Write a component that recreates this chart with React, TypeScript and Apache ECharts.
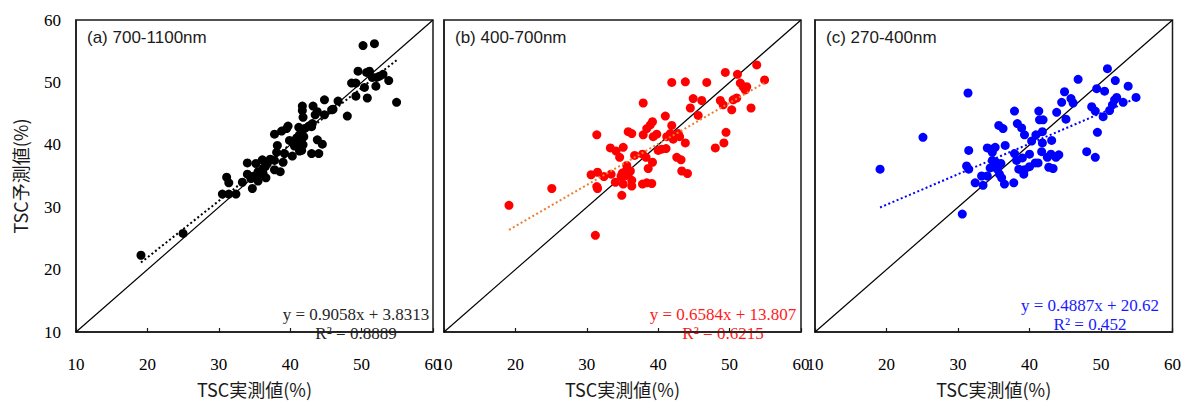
import React, { useEffect, useRef } from "react";
import * as echarts from "echarts";

// Panel (a) 700-1100nm
const aX = [19.1, 25.0, 30.5, 31.4, 32.4, 31.1, 31.4, 33.3, 34.0, 34.0, 34.7, 34.8, 35.2, 35.5, 36.1, 36.2, 36.6, 36.2, 37.8, 37.8, 38.1, 38.2, 38.6, 39.0, 39.2, 37.8, 38.8, 39.5, 39.7, 39.9, 40.3, 40.9, 41.2, 41.3, 41.6, 41.8, 41.3, 41.9, 40.9, 41.7, 41.7, 41.8, 42.6, 43.1, 43.2, 43.5, 43.8, 43.0, 44.0, 43.8, 44.5, 44.8, 44.8, 45.8, 46.0, 46.7, 48.0, 48.6, 49.2, 49.2, 49.5, 50.4, 50.8, 51.1, 51.5, 52.0, 52.5, 53.0, 53.8, 54.9, 52.1, 50.2, 51.8, 34.5, 35.0, 35.8, 36.5, 35.5, 36.8, 37.2, 40.6, 41.6, 42.0, 43.0, 50.7];
const aY = [22.3, 25.8, 32.1, 32.1, 32.1, 34.8, 33.9, 34.0, 37.1, 35.3, 33.0, 34.9, 37.0, 35.7, 37.6, 36.2, 34.7, 35.4, 36.0, 37.5, 38.8, 39.9, 35.7, 37.2, 38.6, 41.7, 42.2, 42.6, 43.0, 40.7, 38.2, 40.0, 42.8, 41.6, 40.8, 40.0, 39.0, 41.3, 41.1, 46.2, 45.5, 44.4, 43.0, 43.4, 46.2, 44.8, 45.3, 38.6, 38.6, 40.8, 40.1, 47.2, 44.8, 45.6, 45.7, 47.0, 44.6, 49.9, 49.9, 47.8, 51.8, 49.2, 47.5, 51.8, 50.8, 49.4, 51.0, 51.3, 50.3, 46.8, 50.8, 55.9, 56.2, 34.6, 35.0, 35.3, 36.5, 34.2, 37.0, 37.7, 39.8, 39.1, 42.6, 42.9, 51.6];

// Panel (b) 400-700nm
const bX = [19.1, 25.1, 31.2, 31.4, 30.6, 31.5, 31.4, 31.5, 32.4, 33.4, 33.3, 34.1, 34.6, 35.1, 34.0, 34.9, 35.1, 34.9, 35.4, 35.6, 36.1, 36.3, 36.3, 36.7, 35.8, 36.3, 37.8, 38.3, 38.6, 39.2, 37.8, 38.4, 39.1, 37.9, 37.9, 38.4, 38.9, 39.2, 39.3, 39.8, 40.0, 40.5, 41.0, 41.1, 41.2, 41.7, 41.9, 41.9, 42.1, 42.6, 43.2, 43.0, 43.8, 43.3, 44.1, 43.8, 44.5, 44.9, 45.6, 46.1, 46.8, 48.0, 48.7, 49.1, 49.2, 49.5, 49.4, 50.3, 50.5, 51.0, 51.1, 51.5, 51.9, 52.2, 52.4, 53.0, 53.8, 54.9, 35.0, 35.3, 35.8, 34.8, 42.8];
const bY = [30.3, 33.0, 25.5, 41.6, 35.2, 35.6, 33.3, 33.0, 34.9, 35.3, 39.5, 39.0, 38.0, 39.6, 34.0, 31.9, 33.7, 35.2, 35.7, 36.7, 35.8, 34.3, 33.4, 38.3, 42.1, 41.8, 38.5, 38.0, 36.2, 37.2, 33.7, 33.9, 33.8, 46.7, 41.6, 42.6, 43.2, 43.7, 41.3, 41.7, 39.1, 39.3, 44.6, 39.4, 41.3, 41.8, 43.1, 50.0, 40.9, 38.0, 37.6, 41.3, 40.3, 35.8, 35.4, 50.1, 45.9, 47.4, 44.7, 47.1, 50.0, 39.5, 47.1, 46.4, 40.3, 42.0, 51.6, 45.6, 47.2, 47.5, 51.3, 49.9, 49.3, 48.8, 49.3, 45.9, 52.8, 50.4, 35.5, 35.0, 35.3, 34.9, 41.8];

// Panel (c) 270-400nm
const cX = [19.1, 25.1, 30.6, 31.4, 31.5, 31.2, 31.5, 32.4, 33.5, 33.3, 34.1, 34.1, 34.6, 35.2, 34.8, 34.8, 35.1, 35.5, 35.8, 36.1, 36.5, 35.7, 36.3, 36.6, 37.9, 37.8, 37.9, 38.2, 38.3, 38.9, 39.3, 39.0, 39.2, 38.5, 40.0, 40.3, 40.9, 41.3, 41.4, 41.9, 41.8, 41.8, 40.8, 41.2, 40.0, 39.3, 41.7, 43.0, 43.1, 42.5, 42.7, 43.3, 43.7, 44.1, 43.8, 44.5, 45.1, 44.9, 45.8, 46.1, 46.8, 48.0, 48.7, 49.2, 49.2, 49.4, 49.5, 50.3, 50.5, 50.9, 51.2, 51.6, 51.9, 52.2, 52.0, 53.1, 53.8, 54.9, 35.3, 34.5, 36.0];
const cY = [36.1, 41.2, 28.9, 48.3, 39.1, 36.6, 36.1, 33.9, 33.5, 35.0, 35.0, 39.5, 39.3, 39.6, 38.8, 37.5, 36.5, 36.1, 35.3, 34.7, 33.7, 43.1, 42.6, 39.9, 45.4, 33.9, 38.6, 37.5, 43.4, 42.7, 41.6, 37.9, 35.3, 36.1, 38.5, 40.6, 41.6, 45.4, 44.0, 44.0, 42.1, 40.3, 37.1, 37.1, 36.5, 36.0, 38.9, 38.5, 40.7, 38.0, 36.4, 36.2, 38.0, 38.4, 45.2, 46.8, 44.1, 48.5, 47.4, 46.7, 50.5, 38.9, 46.1, 45.4, 38.0, 49.0, 42.0, 44.5, 48.6, 52.2, 45.5, 46.4, 47.2, 47.6, 50.3, 46.8, 49.4, 47.6, 37.2, 36.3, 37.0];

const panelTitles = ["(a) 700-1100nm", "(b) 400-700nm", "(c) 270-400nm"];
const slopes = [0.9058, 0.6584, 0.4887];
const intercepts = [3.8313, 13.807, 20.62];
const equations = ["y = 0.9058x + 3.8313", "y = 0.6584x + 13.807", "y = 0.4887x + 20.62"];
const r2Labels = ["R² = 0.8889", "R² = 0.6215", "R² = 0.452"];
const xName = "TSC実測値(%)";
const yName = "TSC予測値(%)";

const pointColors = ["#000000", "#FF0000", "#0000FF"];
const trendColors = ["#000000", "#ED7D31", "#0000FF"];
const eqColors = ["#262626", "#FF1A1A", "#1A1AFF"];

const grids = [
  { left: 76, width: 357 },
  { left: 444, width: 357 },
  { left: 815, width: 359 },
];
const gridTop = 20;
const gridHeight = 326;
const eqPos = [
  { x: 356, y1: 314, y2: 333 },
  { x: 723, y1: 314, y2: 333 },
  { x: 1090, y1: 305, y2: 324 },
];

const serif = "Liberation Serif";
const sans = "Liberation Sans";
const cjk = "Noto Sans CJK JP";

export default function App() {
  const ref = useRef<HTMLDivElement>(null);
  useEffect(() => {
    if (!ref.current) return;
    const chart = echarts.init(ref.current, null, { renderer: "svg" });
    const xs = [aX, bX, cX];
    const ys = [aY, bY, cY];

    const series: any[] = [];
    xs.forEach((xArr, i) => {
      const pts = xArr.map((x, k) => [x, ys[i][k]]);
      const xmin = Math.min(...xArr);
      const xmax = Math.max(...xArr);
      series.push({
        type: "line",
        xAxisIndex: i,
        yAxisIndex: i,
        data: [[10, 10], [60, 60]],
        symbol: "none",
        lineStyle: { color: "#000", width: 1.2 },
        z: 1,
        silent: true,
      });
      series.push({
        type: "scatter",
        xAxisIndex: i,
        yAxisIndex: i,
        data: pts,
        symbol: "circle",
        symbolSize: 9,
        itemStyle: { color: pointColors[i], opacity: 1 },
        z: 2,
      });
      series.push({
        type: "line",
        xAxisIndex: i,
        yAxisIndex: i,
        data: [
          [xmin, slopes[i] * xmin + intercepts[i]],
          [xmax, slopes[i] * xmax + intercepts[i]],
        ],
        symbol: "none",
        lineStyle: { color: trendColors[i], width: 2, type: [2, 2.5] },
        z: 3,
        silent: true,
      });
    });

    const graphics: any[] = [];
    grids.forEach((g, i) => {
      graphics.push({
        type: "text",
        x: g.left + 11,
        y: 37,
        style: {
          text: panelTitles[i],
          fill: "#1a1a1a",
          fontFamily: sans,
          fontSize: 17,
          textVerticalAlign: "middle",
        },
      });
      graphics.push({
        type: "text",
        x: eqPos[i].x,
        y: eqPos[i].y1,
        style: {
          text: equations[i],
          fill: eqColors[i],
          fontFamily: serif,
          fontSize: 17,
          textAlign: "center",
          textVerticalAlign: "middle",
        },
      });
      graphics.push({
        type: "text",
        x: eqPos[i].x,
        y: eqPos[i].y2,
        style: {
          text: r2Labels[i],
          fill: eqColors[i],
          fontFamily: serif,
          fontSize: 17,
          textAlign: "center",
          textVerticalAlign: "middle",
        },
      });
    });

    chart.setOption({
      animation: false,
      backgroundColor: "#ffffff",
      textStyle: { fontFamily: serif },
      grid: grids.map((g) => ({
        left: g.left,
        top: gridTop,
        width: g.width,
        height: gridHeight,
        show: true,
        borderColor: "#1a1a1a",
        borderWidth: 1.5,
        backgroundColor: "transparent",
      })),
      xAxis: grids.map((_, i) => ({
        type: "value",
        gridIndex: i,
        min: 10,
        max: 60,
        interval: 10,
        name: xName,
        nameLocation: "middle",
        nameGap: 48,
        nameTextStyle: { fontFamily: cjk, fontSize: 18, color: "#1a1a1a" },
        axisLine: { show: true, lineStyle: { color: "#1a1a1a", width: 1.5 } },
        axisTick: { show: true, inside: true, length: 4, lineStyle: { color: "#1a1a1a", width: 1.2 } },
        axisLabel: { show: true, color: "#000", fontFamily: serif, fontSize: 17, margin: 24 },
        splitLine: { show: false },
      })),
      yAxis: grids.map((_, i) => ({
        type: "value",
        gridIndex: i,
        min: 10,
        max: 60,
        interval: 10,
        name: i === 0 ? yName : "",
        nameLocation: "middle",
        nameGap: 47,
        nameRotate: 90,
        nameTextStyle: { fontFamily: cjk, fontSize: 18, color: "#1a1a1a" },
        axisLine: { show: true, lineStyle: { color: "#1a1a1a", width: 1.5 } },
        axisTick: { show: false },
        axisLabel: { show: i === 0, color: "#000", fontFamily: serif, fontSize: 17, margin: 15 },
        splitLine: { show: false },
      })),
      series,
      graphic: graphics,
    });
    return () => chart.dispose();
  }, []);
  return (
    <div
      ref={ref}
      style={{ position: "fixed", left: 0, top: 0, width: 1184, height: 403, background: "#fff" }}
    />
  );
}
